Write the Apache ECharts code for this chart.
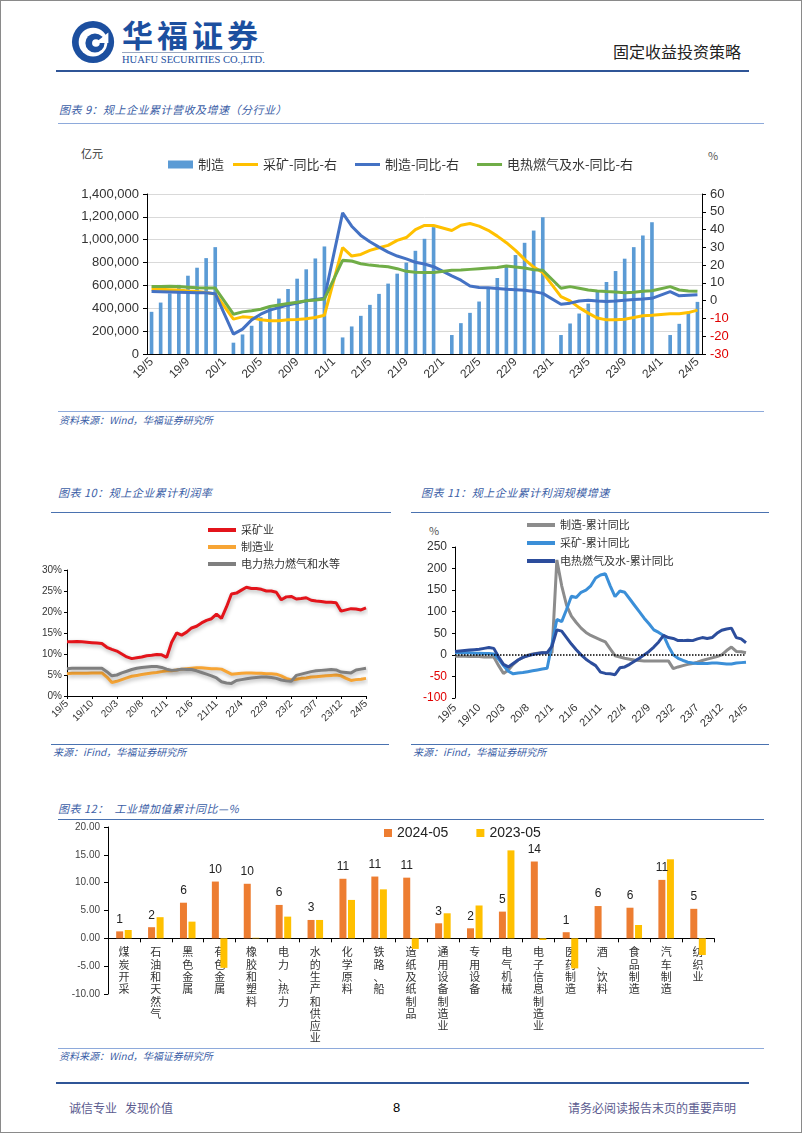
<!DOCTYPE html>
<html><head><meta charset="utf-8">
<script src="https://cdn.jsdelivr.net/npm/echarts@6/dist/echarts.min.js"></script>
<style>
html,body{margin:0;padding:0;background:#fff;}
#page{position:relative;width:802px;height:1133px;box-sizing:border-box;border:1px solid #8a8a8a;overflow:hidden;font-family:"Noto Sans CJK SC",sans-serif;background:#fff;}
.abs{position:absolute;white-space:nowrap;line-height:1;}
.ttl{font-style:italic;font-size:11px;color:#3b5ea6;letter-spacing:0.5px;}
.src{font-style:italic;font-size:10px;color:#3b5ea6;}
.ln{position:absolute;height:0;}
.chart{position:absolute;}
</style></head><body>
<div id="page">
  <svg class="abs" style="left:69px;top:18px" width="48" height="46" viewBox="0 0 50 48">
    <circle cx="24" cy="24" r="22" fill="#1c4f9f"/>
    <circle cx="24" cy="24" r="15" fill="#fff"/>
    <circle cx="26" cy="25" r="10" fill="#1c4f9f"/>
    <path d="M26 25 L40 14 L40 25 Z" fill="#fff"/>
    <circle cx="27" cy="25" r="4" fill="#fff"/>
  </svg>
  <div class="abs" style="left:121px;top:17px;font-size:31px;font-weight:700;color:#1c4f9f;letter-spacing:4px;">华福证券</div>
  <div class="ln" style="left:121px;top:51px;width:142px;border-top:1px solid #9aa8c0;"></div>
  <div class="abs" style="left:121px;top:54px;font-size:10.5px;font-family:'Liberation Serif',serif;color:#1c4f9f;">HUAFU SECURITIES CO.,LTD.</div>
  <div class="abs" style="left:612px;top:42px;font-size:16px;color:#222;">固定收益投资策略</div>
  <div class="ln" style="left:55px;top:69px;width:693px;border-top:2px solid #2f5597;"></div>

  <div class="abs ttl" style="left:58px;top:103px;">图表 9：规上企业累计营收及增速（分行业）</div>
  <div class="ln" style="left:57px;top:122px;width:706px;border-top:1px solid #8eaadb;"></div>
  <div class="abs" style="left:80px;top:147px;font-size:11px;color:#333;">亿元</div>
  <div class="abs" style="left:707px;top:149px;font-size:11px;color:#555;">%</div>
  <div id="c1" class="chart" style="left:50px;top:140px;width:710px;height:265px;"></div>
  <div class="ln" style="left:57px;top:410px;width:706px;border-top:1px solid #8eaadb;"></div>
  <div class="abs src" style="left:58px;top:414px;">资料来源：Wind，华福证券研究所</div>

  <div class="abs ttl" style="left:57px;top:486px;">图表 10：规上企业累计利润率</div>
  <div class="ln" style="left:50px;top:511px;width:340px;border-top:1.5px solid #4a72b0;"></div>
  <div class="abs ttl" style="left:420px;top:486px;">图表 11：规上企业累计利润规模增速</div>
  <div class="ln" style="left:410px;top:511px;width:358px;border-top:1.5px solid #4a72b0;"></div>
  <div id="c2" class="chart" style="left:28px;top:515px;width:372px;height:225px;"></div>
  <div class="abs" style="left:428px;top:524px;font-size:11px;color:#555;">%</div>
  <div id="c3" class="chart" style="left:410px;top:513px;width:370px;height:227px;"></div>
  <div class="ln" style="left:50px;top:743px;width:338px;border-top:1.5px solid #4a72b0;"></div>
  <div class="abs src" style="left:52px;top:746px;">来源：iFind，华福证券研究所</div>
  <div class="ln" style="left:410px;top:743px;width:358px;border-top:1.5px solid #4a72b0;"></div>
  <div class="abs src" style="left:412px;top:746px;">来源：iFind，华福证券研究所</div>

  <div class="abs ttl" style="left:57px;top:802px;">图表 12：&nbsp;&nbsp;工业增加值累计同比—%</div>
  <div class="ln" style="left:57px;top:818px;width:706px;border-top:1.5px solid #4a72b0;"></div>
  <div id="c4" class="chart" style="left:50px;top:815px;width:700px;height:230px;"></div>
  <div class="ln" style="left:57px;top:1047px;width:706px;border-top:1.5px solid #8eaadb;"></div>
  <div class="abs src" style="left:58px;top:1050px;">资料来源：Wind，华福证券研究所</div>

  <div class="ln" style="left:55px;top:1081px;width:693px;border-top:2px solid #2f5597;"></div>
  <div class="abs" style="left:68px;top:1101px;font-size:12px;color:#5b5b8f;">诚信专业&nbsp;&nbsp;&nbsp;发现价值</div>
  <div class="abs" style="left:392px;top:1100px;font-size:13px;color:#000;font-family:'Liberation Sans',sans-serif;">8</div>
  <div class="abs" style="left:567px;top:1101px;font-size:12px;color:#5b5b8f;">请务必阅读报告末页的重要声明</div>
</div>
<script>
// ---------- shared categories ----------
const months = ['19/5','19/6','19/7','19/8','19/9','19/10','19/11','19/12',
 '20/1','20/2','20/3','20/4','20/5','20/6','20/7','20/8','20/9','20/10','20/11','20/12',
 '21/1','21/2','21/3','21/4','21/5','21/6','21/7','21/8','21/9','21/10','21/11','21/12',
 '22/1','22/2','22/3','22/4','22/5','22/6','22/7','22/8','22/9','22/10','22/11','22/12',
 '23/1','23/2','23/3','23/4','23/5','23/6','23/7','23/8','23/9','23/10','23/11','23/12',
 '24/1','24/2','24/3','24/4','24/5'];

// ---------- chart 9 ----------
const mfgRevenue = [369000,450000,530000,605000,685000,755000,839000,935000, null,
 99000,171000,247000,322000,402000,485000,569000,659000,741000,836000,941000, null,
 145000,241000,334000,430000,526000,616000,703000,800000,903000,1008000,1110000, null,
 166000,270000,360000,459000,572000,665000,770000,866000,973000,1080000,1197000, null,
 166000,267000,354000,441000,543000,630000,726000,834000,935000,1037000,1153000, null,
 166000,264000,363000,456000];
const miningYoY = [6.4,6.4,6.2,6.0,5.5,5.1,4.6,3.8, null,
 -10.4,-9.1,-9.5,-10.8,-11.3,-11.3,-10.8,-10.6,-10.2,-9.5,-8.2, null,
 29.8,25.1,26.0,28.3,29.8,31.1,33.9,35.5,40.0,42.3,42.3, null,
 39.5,42.4,43.4,41.9,39.6,36.3,32.6,28.3,23.2,18.9,15.8, null,
 2.3,-0.1,-3.9,-7.0,-9.8,-10.8,-10.8,-10.4,-9.5,-8.5,-8.2, null,
 -7.4,-7.4,-6.7,-5.3];
const mfgYoY = [5.1,5.0,4.9,4.8,4.6,4.4,4.5,3.9, null,
 -18.8,-16.0,-10.8,-7.6,-5.3,-3.9,-2.4,-1.3,-0.1,0.7,1.4, null,
 49.4,41.9,36.7,33.1,30.1,27.3,25.1,23.5,21.6,20.6,19.1, null,
 13.9,11.5,8.3,7.4,7.2,6.8,6.4,6.2,5.8,5.1,4.1, null,
 -2.0,-1.4,-0.2,0.2,-0.2,-0.5,-0.2,0.2,0.6,0.9,1.3, null,
 5.1,2.7,3.1,3.3];
const utilYoY = [7.9,7.9,8.1,7.9,7.6,7.3,7.1,7.1, null,
 -7.6,-6.3,-5.7,-4.8,-3.3,-2.4,-1.6,-0.9,-0.1,0.4,1.0, null,
 22.7,22.3,20.8,20.0,19.5,19.1,18.0,16.5,16.0,15.9,15.8, null,
 17.1,17.2,17.6,18.0,18.4,18.6,19.5,18.9,18.4,17.4,17.1, null,
 7.0,7.9,7.0,6.0,5.5,5.1,4.9,4.5,4.7,5.3,5.6, null,
 7.9,6.0,5.5,5.3];

// ---------- chart 10 ----------
const miningMargin = [12.9,12.9,13.0,12.9,12.8,12.7,12.6,12.5,
 11.6,11.1,10.7,10.0,9.3,8.9, 9.1,9.3,9.6,9.7,9.9,9.8,
 9.2,12.8,15.0,14.5,15.2, 16.2,16.6,17.4,18.0,18.4,19.5,18.5,
 21.2,24.3,24.5,25.2, 25.9,25.6,25.6,25.4,25.0,25.0,24.7,
 22.9,23.6,23.7,23.1,23.2, 23.4,22.8,22.6,22.5,22.3,22.3,22.2,
 20.2,20.5,20.8,20.7,20.5,21.0];
const mfgMargin = [5.3,5.4,5.4,5.4,5.4,5.5,5.5,5.5,
 4.5,3.2,3.5,3.9,4.3,4.7, 4.9,5.1,5.3,5.5,5.6,5.8,
 6.0,6.0,6.2,6.4,6.5, 6.6,6.7,6.7,6.6,6.5,6.5,6.4,
 5.8,5.2,5.3,5.4, 5.5,5.5,5.4,5.4,5.3,5.3,5.2,
 4.8,4.2,3.8,4.0,4.2, 4.3,4.5,4.6,4.7,4.8,4.9,5.0,
 4.8,4.2,3.7,3.9,4.0,4.2];
const utilMargin = [6.5,6.6,6.6,6.6,6.6,6.6,6.6,6.6,
 5.8,4.8,5.0,5.5,5.9,6.3, 6.6,6.8,6.9,7.0,7.0,6.8,
 6.4,6.1,6.2,6.4,6.3, 6.3,6.0,5.6,5.2,4.8,4.3,3.4,
 3.1,3.0,3.7,3.9, 4.1,4.3,4.4,4.5,4.5,4.4,4.2,
 3.8,3.6,3.5,4.9,5.2, 5.5,5.8,6.0,6.1,6.2,6.3,6.2,
 5.7,5.6,5.5,6.2,6.4,6.6];

// ---------- chart 11 ----------
const mfgProfitYoY = [-3,-3,-3,-4,-4,-4,-5,-5,
 -5,-25,-43,-35,-22,-12, -6,-1,2,4,5,5,
 5,220,160,115,90, 75,62,52,45,40,35,30,
 14,-2,-5,-8, -10,-12,-13,-14,-14,-14,-14,
 -14,-14,-32,-28,-25, -22,-20,-17,-13,-10,-7,-4,
 0,10,18,8,7,5];
const miningProfitYoY = [5,5,5,5,4,4,3,3,
 2,-10,-25,-38,-44,-42, -41,-39,-37,-35,-33,-31,
 25,82,77,105,136, 133,145,150,160,178,185,188,
 160,135,148,145, 130,115,100,85,72,58,52,
 45,20,0,-8,-13, -17,-19,-20,-20,-20,-19,-19,
 -20,-21,-21,-19,-18,-17];
const utilProfitYoY = [8,9,10,11,12,13,15,17,
 15,-5,-22,-28,-20,-12, -6,-2,1,3,5,5,
 20,58,55,40,25, 12,0,-10,-18,-25,-40,-43,
 -44,-46,-30,-28, -22,-15,-8,0,8,18,30,
 45,40,38,33,33, 34,33,37,40,38,40,50,
 57,60,62,40,37,28];

// ---------- chart 12 ----------
const industries = ['煤炭开采','石油和天然气','黑色金属','有色金属','橡胶和塑料','电力、热力','水的生产和供应业','化学原料','铁路、船','造纸及纸制品','通用设备制造业','专用设备','电气机械','电子信息制造业','医药制造','酒、饮料','食品制造','汽车制造','纺织业'];
const va2024 = [1.25,2.0,6.4,10.2,9.8,6.0,3.3,10.7,11.1,10.9,2.7,1.8,4.8,13.8,1.1,5.8,5.5,10.5,5.3];
const va2023 = [1.5,3.8,3.0,-5.3,0.1,3.9,3.3,6.9,8.8,-1.9,4.5,5.9,15.8,-0.3,-5.4,0,2.4,14.2,-3.0];

const CN = '"Noto Sans CJK SC", sans-serif';
const NUM = '"Liberation Sans", Arial, sans-serif';
const blk = {lineStyle:{color:'#000',width:1}};
const negRed = (v)=> v<0 ? '{r|'+v+'}' : ''+v;

// Chart 1
const c1 = echarts.init(document.getElementById('c1'));
c1.setOption({
  animation:false,
  grid:{left:96, top:53, width:555, height:160, outerBoundsMode:'none', containLabel:false},
  legend:[
    {left:112, top:12, itemWidth:25, itemHeight:8, icon:'rect',
     textStyle:{fontSize:13, color:'#333', fontFamily:CN}, data:['制造']},
    {left:177, top:12, itemWidth:25, itemHeight:3, itemGap:18, icon:'rect',
     textStyle:{fontSize:13, color:'#333', fontFamily:CN},
     data:['采矿-同比-右', '制造-同比-右', '电热燃气及水-同比-右']}
  ],
  xAxis:{type:'category', data:months, axisLine:blk,
    axisTick:{interval:0, length:4, lineStyle:{color:'#000'}},
    axisLabel:{interval:3, rotate:45, fontSize:12, color:'#333', fontFamily:NUM, margin:6}},
  yAxis:[
    {type:'value', min:0, max:1400000, interval:200000, axisLine:{show:true, lineStyle:{color:'#000'}},
     axisTick:{show:true, length:4, lineStyle:{color:'#000'}}, splitLine:{lineStyle:{color:'#d9d9d9'}},
     axisLabel:{fontSize:13, color:'#333', fontFamily:NUM, formatter:(v)=>v.toLocaleString('en-US')}},
    {type:'value', min:-30, max:60, interval:10, position:'right', axisLine:{show:true, lineStyle:{color:'#000'}},
     axisTick:{show:true, length:4, lineStyle:{color:'#000'}}, splitLine:{show:false},
     axisLabel:{fontSize:13, color:'#333', fontFamily:NUM, formatter:negRed, rich:{r:{color:'#e00000', fontSize:13, fontFamily:NUM}}}}
  ],
  series:[
    {name:'制造', type:'bar', data:mfgRevenue, barWidth:'40%', itemStyle:{color:'#5b9bd5'}},
    {name:'采矿-同比-右', type:'line', yAxisIndex:1, data:miningYoY, symbol:'none', connectNulls:true, lineStyle:{width:3, color:'#ffc000'}, itemStyle:{color:'#ffc000'}},
    {name:'制造-同比-右', type:'line', yAxisIndex:1, data:mfgYoY, symbol:'none', connectNulls:true, lineStyle:{width:3, color:'#4472c4'}, itemStyle:{color:'#4472c4'}},
    {name:'电热燃气及水-同比-右', type:'line', yAxisIndex:1, data:utilYoY, symbol:'none', connectNulls:true, lineStyle:{width:3, color:'#70ad47'}, itemStyle:{color:'#70ad47'}}
  ]
});

// Chart 2
const shadow = {shadowColor:'rgba(0,0,0,0.3)', shadowBlur:4, shadowOffsetX:1, shadowOffsetY:2};
const c2 = echarts.init(document.getElementById('c2'));
c2.setOption({
  animation:false,
  grid:{left:38, top:54, width:299, height:126, outerBoundsMode:'none', containLabel:false},
  legend:{orient:'vertical', left:174, top:3, itemWidth:28, itemHeight:4, itemGap:5, icon:'rect',
    textStyle:{fontSize:11, color:'#333', fontFamily:CN, lineHeight:12},
    data:['采矿业','制造业','电力热力燃气和水等']},
  xAxis:{type:'category', boundaryGap:false, data:months, axisLine:blk,
    axisTick:{show:true, interval:4, length:3, lineStyle:{color:'#000'}},
    axisLabel:{interval:4, rotate:45, fontSize:10, color:'#333', fontFamily:NUM, margin:6}},
  yAxis:{type:'value', min:0, max:30, interval:5, axisLine:{show:true, lineStyle:{color:'#000'}},
    axisTick:{show:true, length:3, lineStyle:{color:'#000'}}, splitLine:{show:false},
    axisLabel:{fontSize:10, color:'#333', fontFamily:NUM, formatter:'{value}%', margin:5}},
  series:[
    {name:'采矿业', type:'line', data:miningMargin, symbol:'none', lineStyle:Object.assign({width:3, color:'#e3141b'}, shadow), itemStyle:{color:'#e3141b'}},
    {name:'制造业', type:'line', data:mfgMargin, symbol:'none', lineStyle:Object.assign({width:3, color:'#f7a535'}, shadow), itemStyle:{color:'#f7a535'}},
    {name:'电力热力燃气和水等', type:'line', data:utilMargin, symbol:'none', lineStyle:Object.assign({width:3, color:'#7f7f7f'}, shadow), itemStyle:{color:'#7f7f7f'}}
  ]
});

// Chart 3
const c3 = echarts.init(document.getElementById('c3'));
c3.setOption({
  animation:false,
  grid:{left:44, top:33, width:291, height:151, outerBoundsMode:'none', containLabel:false},
  legend:{orient:'vertical', left:111, top:0, itemWidth:28, itemHeight:4, itemGap:6, icon:'rect',
    textStyle:{fontSize:11, color:'#333', fontFamily:CN, lineHeight:12},
    data:['制造-累计同比','采矿-累计同比','电热燃气及水-累计同比']},
  xAxis:{type:'category', boundaryGap:false, data:months, axisLine:{show:false, onZero:false},
    axisTick:{show:false},
    axisLabel:{interval:4, rotate:45, fontSize:11, color:'#333', fontFamily:NUM, margin:8}},
  yAxis:{type:'value', min:-100, max:250, interval:50, axisLine:{show:true, lineStyle:{color:'#000'}},
    axisTick:{show:true, length:3, lineStyle:{color:'#000'}}, splitLine:{show:false},
    axisLabel:{fontSize:12, color:'#333', fontFamily:NUM, formatter:negRed, rich:{r:{color:'#e00000', fontSize:12, fontFamily:NUM}}}},
  series:[
    {name:'制造-累计同比', type:'line', data:mfgProfitYoY, symbol:'none', lineStyle:{width:3, color:'#8c8c8c'}, itemStyle:{color:'#8c8c8c'},
      markLine:{silent:true, symbol:'none', label:{show:false}, lineStyle:{type:'dotted', color:'#000', width:1.5}, data:[{yAxis:0}]}},
    {name:'采矿-累计同比', type:'line', data:miningProfitYoY, symbol:'none', lineStyle:{width:3, color:'#3b8fd8'}, itemStyle:{color:'#3b8fd8'}},
    {name:'电热燃气及水-累计同比', type:'line', data:utilProfitYoY, symbol:'none', lineStyle:{width:3, color:'#2c4d9c'}, itemStyle:{color:'#2c4d9c'}}
  ]
});

// Chart 4  (zero line sits 56px above grid bottom; labels are pulled up to it)
const c4 = echarts.init(document.getElementById('c4'));
c4.setOption({
  animation:false,
  grid:{left:57, top:11, width:606, height:167, outerBoundsMode:'none', containLabel:false},
  legend:{left:328, top:5, itemWidth:8, itemHeight:8, itemGap:28, icon:'rect',
    textStyle:{fontSize:14, color:'#222', fontFamily:NUM}, data:['2024-05','2023-05']},
  xAxis:{type:'category', data:industries, axisLine:blk,
    axisTick:{show:true, length:4, lineStyle:{color:'#000'}},
    axisLabel:{interval:0, fontSize:11, color:'#333', fontFamily:CN, lineHeight:12.3, verticalAlign:'top', margin:-48,
      formatter:(v)=>v.split('').join('\n')}},
  yAxis:{type:'value', min:-10, max:20, interval:5, axisLine:{show:true, lineStyle:{color:'#000'}},
    axisTick:{show:true, length:4, lineStyle:{color:'#000'}}, splitLine:{show:false},
    axisLabel:{fontSize:10, color:'#444', fontFamily:NUM, formatter:(v)=>v.toFixed(2), margin:8}},
  series:[
    {name:'2024-05', type:'bar', data:va2024, barWidth:7, barGap:'22%', itemStyle:{color:'#ed7d31'},
      label:{show:true, position:'top', distance:6, fontSize:12, color:'#222', fontFamily:NUM, formatter:(p)=>Math.round(p.value)}},
    {name:'2023-05', type:'bar', data:va2023, barWidth:7, itemStyle:{color:'#ffc000'}}
  ]
});
</script>
</body></html>
